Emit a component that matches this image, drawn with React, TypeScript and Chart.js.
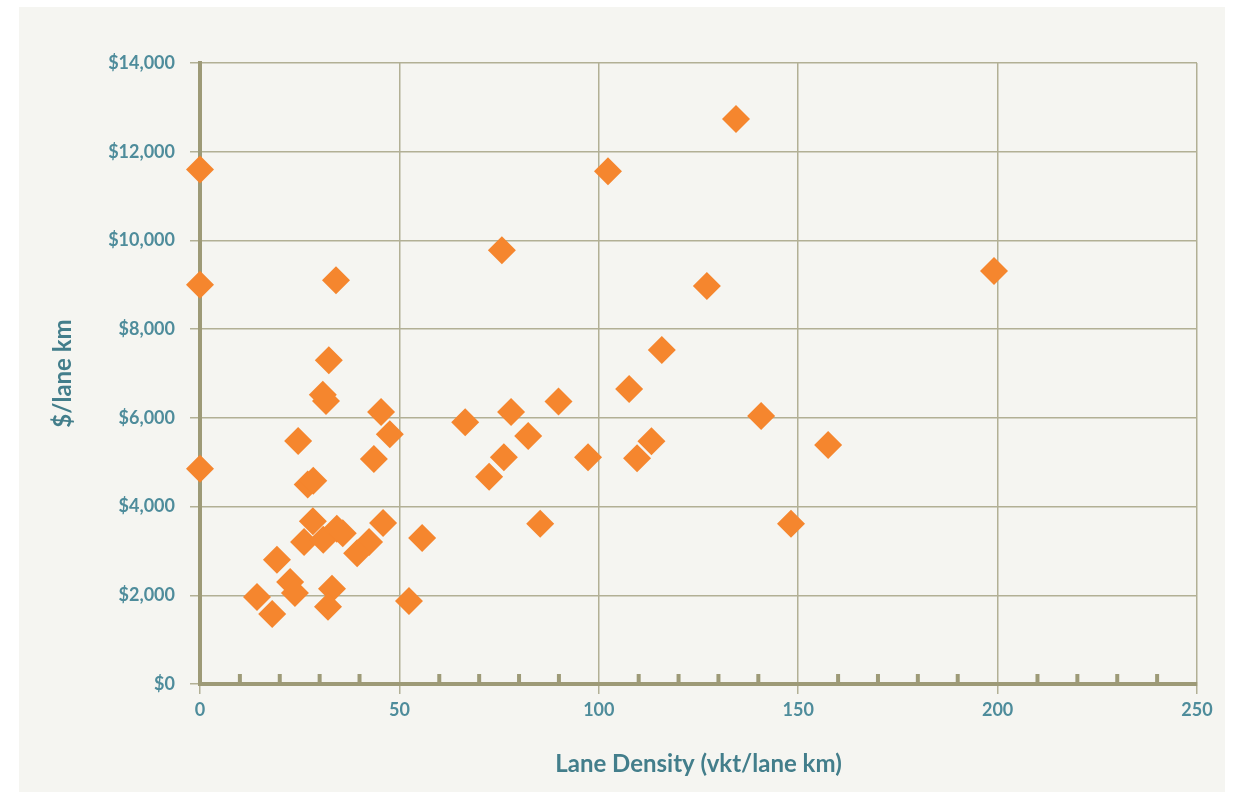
import React, { useEffect, useRef } from "react";
import { Chart, registerables } from "chart.js";

Chart.register(...registerables);

const densityValues: number[] = [
  0, 0, 0, 34.1, 32.3, 30.8, 31.6, 24.6, 45.4, 47.6,
  43.6, 27.0, 28.4, 28.3, 26.1, 30.9, 34.3, 35.8, 45.9, 42.4,
  39.4, 55.7, 19.3, 22.6, 23.8, 14.3, 18.1, 33.1, 32.1, 52.4,
  66.5, 72.5, 75.7, 76.2, 78.0, 82.3, 85.3, 89.9, 97.3, 102.3,
  107.6, 109.6, 113.2, 115.8, 127.1, 134.4, 140.7, 148.2, 157.5, 199.1,
];
const costValues: number[] = [
  11600, 9000, 4850, 9100, 7300, 6520, 6380, 5480, 6130, 5630,
  5070, 4500, 4580, 3670, 3200, 3250, 3500, 3400, 3630, 3200,
  2950, 3290, 2800, 2300, 2050, 1960, 1580, 2150, 1740, 1870,
  5900, 4670, 9780, 5110, 6130, 5590, 3610, 6370, 5110, 11560,
  6650, 5090, 5470, 7530, 8970, 12740, 6040, 3610, 5390, 9310,
];
const xTitle = "Lane Density (vkt/lane km)";
const yTitle = "$/lane km";
const xMin = 0, xMax = 250, xMinorStep = 10, xMajorStep = 50;
const yMin = 0, yMax = 14000, yStep = 2000;

const BORDER = "#9d9a77";
const GRID = "#b2b095";
const TEXT = "#4e8c9b";
const TITLE = "#437e8b";

const backgroundPlugin = {
  id: "panelBg",
  beforeDraw(chart: any) {
    const ctx = chart.ctx;
    ctx.save();
    ctx.fillStyle = "#ffffff";
    ctx.fillRect(0, 0, chart.width, chart.height);
    ctx.fillStyle = "#f5f5f1";
    ctx.fillRect(19, 7, 1206, 785);
    ctx.restore();
  },
};

const minorTickPlugin = {
  id: "minorTicks",
  beforeDatasetsDraw(chart: any) {
    const x = chart.scales.x;
    const ctx = chart.ctx;
    const bottom = chart.chartArea.bottom;
    ctx.save();
    ctx.strokeStyle = BORDER;
    ctx.lineWidth = 4;
    for (let v = xMin + xMinorStep; v < xMax; v += xMinorStep) {
      if (v % xMajorStep === 0) continue;
      const px = x.getPixelForValue(v);
      ctx.beginPath();
      ctx.moveTo(px, bottom);
      ctx.lineTo(px, bottom - 10);
      ctx.stroke();
    }
    ctx.restore();
  },
};

export default function App() {
  const ref = useRef<HTMLCanvasElement | null>(null);

  useEffect(() => {
    if (!ref.current) return;
    const data = densityValues.map((d, i) => ({ x: d, y: costValues[i] }));
    const chart = new Chart(ref.current, {
      type: "scatter",
      data: {
        datasets: [
          {
            data,
            clip: false,
            pointStyle: "rectRot",
            pointRadius: 14,
            pointHoverRadius: 14,
            backgroundColor: "#f5862e",
            borderColor: "#f5862e",
            borderWidth: 0,
          },
        ],
      },
      options: {
        animation: false,
        responsive: false,
        events: [],
        layout: { padding: { left: 0, right: 38, top: 63, bottom: 15 } },
        plugins: { legend: { display: false }, tooltip: { enabled: false } },
        scales: {
          x: {
            type: "linear",
            min: xMin,
            max: xMax,
            afterFit(scale: any) {
              scale.height = 95;
            },
            border: { color: BORDER, width: 4 },
            grid: {
              color: (c: any) =>
                c.tick && c.tick.value % xMajorStep === 0 ? GRID : "rgba(0,0,0,0)",
              lineWidth: 1.5,
              tickLength: 10,
            },
            ticks: {
              stepSize: xMinorStep,
              autoSkip: false,
              maxRotation: 0,
              padding: 5,
              color: TEXT,
              font: { family: "Lato", size: 18, weight: "bold" },
              callback: (v: any) => (Number(v) % xMajorStep === 0 ? String(v) : ""),
            },
            title: {
              display: true,
              text: xTitle,
              color: TITLE,
              font: { family: "Lato", size: 24, weight: "bold" },
              padding: { top: 0, bottom: 0 },
            },
          },
          y: {
            type: "linear",
            min: yMin,
            max: yMax,
            afterFit(scale: any) {
              scale.width = 200;
            },
            border: { color: BORDER, width: 4 },
            grid: { color: GRID, lineWidth: 1.5, tickLength: 10 },
            ticks: {
              stepSize: yStep,
              padding: 15,
              color: TEXT,
              font: { family: "Lato", size: 18, weight: "bold" },
              callback: (v: any) => "$" + Number(v).toLocaleString("en-US"),
            },
            title: {
              display: true,
              text: yTitle,
              color: TITLE,
              font: { family: "Lato", size: 24, weight: "bold" },
              padding: { top: 49, bottom: 0 },
            },
          },
        },
      },
      plugins: [backgroundPlugin, minorTickPlugin],
    });
    return () => chart.destroy();
  }, []);

  return (
    <div style={{ position: "fixed", left: 0, top: 0, width: 1235, height: 794 }}>
      <canvas ref={ref} width={1235} height={794} style={{ display: "block" }} />
    </div>
  );
}
